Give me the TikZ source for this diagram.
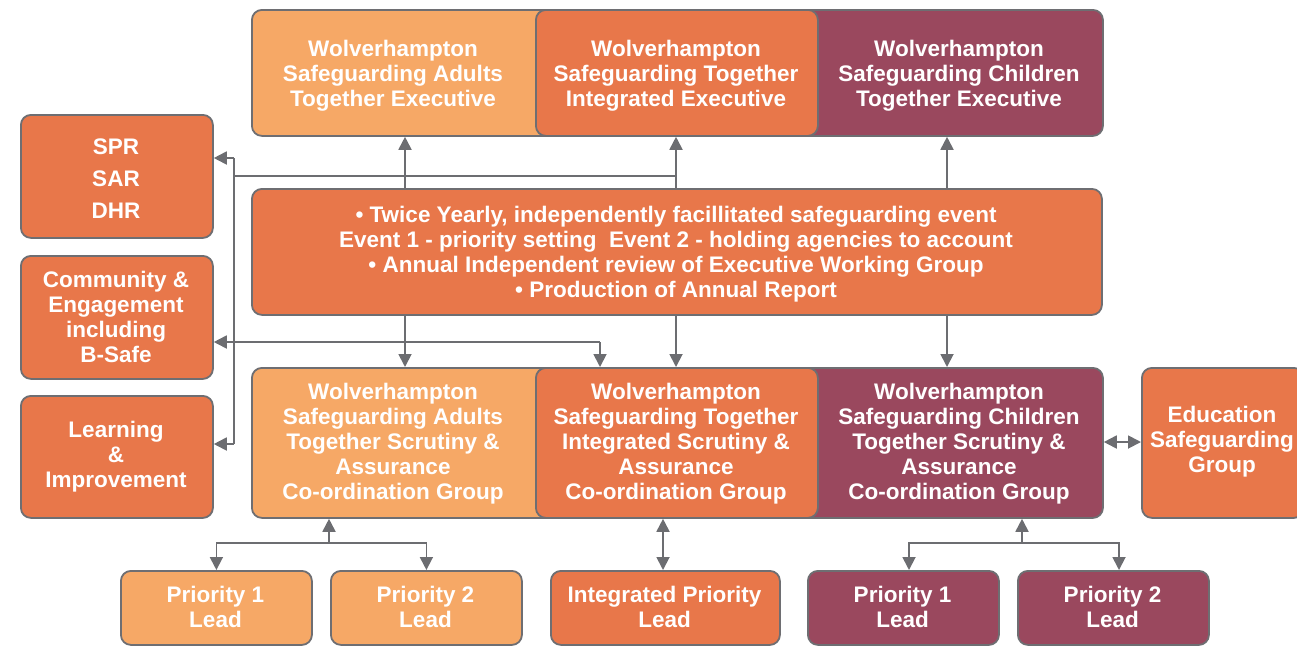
\documentclass[tikz,border=0pt]{standalone}
\usepackage{fontspec}
\setmainfont{Liberation Sans}
\usetikzlibrary{arrows.meta}
\definecolor{lor}{RGB}{246,168,102}
\definecolor{mor}{RGB}{232,119,74}
\definecolor{mar}{RGB}{154,72,94}
\definecolor{bgray}{RGB}{110,110,114}
\definecolor{lgray}{RGB}{108,109,113}
\begin{document}
\begin{tikzpicture}[x=1pt,y=-1pt,
  box/.style={draw=bgray, line width=1.8pt, rounded corners=10pt, inner sep=0pt, anchor=north west},
  txt/.style={text=white, font=\bfseries\fontsize{22.5}{25}\selectfont, align=center, inner sep=0pt},
  ln/.style={draw=lgray, line width=1.8pt},
  arr/.style={ln, -{Triangle[length=13pt,width=13pt]}},
  dbl/.style={ln, {Triangle[length=13pt,width=13pt]}-{Triangle[length=13pt,width=13pt]}}]
\useasboundingbox (0,0) rectangle (1297,646);
\begin{scope}
\clip (0,0) rectangle (1297,646);
% top row
\node[box, fill=lor, minimum width=309pt, minimum height=126pt] (exA) at (251,9) {};
\node[box, fill=mar, minimum width=312pt, minimum height=126pt] (exC) at (790,9) {};
\node[box, fill=mor, minimum width=282pt, minimum height=126pt] (exB) at (535,9) {};
\node[txt] (exAt) at (393,76) {Wolverhampton\\Safeguarding Adults\\Together Executive};
\node[txt] (exBt) at (676,76) {Wolverhampton\\Safeguarding Together\\Integrated Executive};
\node[txt] (exCt) at (959,76) {Wolverhampton\\Safeguarding Children\\Together Executive};
% left column
\node[box, fill=mor, minimum width=192pt, minimum height=123pt] (spr) at (20,114) {};
\node[txt, font=\bfseries\fontsize{22.5}{32}\selectfont] (sprt) at (116,178.5) {SPR\\SAR\\DHR};
\node[box, fill=mor, minimum width=192pt, minimum height=123pt] (com) at (20,255) {};
\node[txt] (comt) at (116,317) {Community \&\\Engagement\\including\\B-Safe};
\node[box, fill=mor, minimum width=192pt, minimum height=122pt] (lrn) at (20,395) {};
\node[txt] (lrnt) at (116,457) {Learning\\\&\\Improvement};
% event box
\node[box, fill=mor, minimum width=850pt, minimum height=126pt] (ev) at (251,188) {};
\node[txt] (evt) at (676,254) {\textbullet\ Twice Yearly, independently facillitated safeguarding event\\Event 1 - priority setting\ \ Event 2 - holding agencies to account\\\textbullet\ Annual Independent review of Executive Working Group\\\textbullet\ Production of Annual Report};
% bottom row
\node[box, fill=lor, minimum width=309pt, minimum height=150pt] (sgA) at (251,367) {};
\node[box, fill=mar, minimum width=312pt, minimum height=150pt] (sgC) at (790,367) {};
\node[box, fill=mor, minimum width=282pt, minimum height=150pt] (sgB) at (535,367) {};
\node[txt] (sgAt) at (393,444) {Wolverhampton\\Safeguarding Adults\\Together Scrutiny \&\\Assurance\\Co-ordination Group};
\node[txt] (sgBt) at (676,444) {Wolverhampton\\Safeguarding Together\\Integrated Scrutiny \&\\Assurance\\Co-ordination Group};
\node[txt] (sgCt) at (959,444) {Wolverhampton\\Safeguarding Children\\Together Scrutiny \&\\Assurance\\Co-ordination Group};
\node[box, fill=mor, minimum width=162pt, minimum height=150pt] (edu) at (1141,367) {};
\node[txt] (edut) at (1222,442) {Education\\Safeguarding\\Group};
% priority row
\node[box, fill=lor, minimum width=191pt, minimum height=74pt] (pA1) at (120,570) {};
\node[txt] (pA1t) at (215.5,607) {Priority 1\\Lead};
\node[box, fill=lor, minimum width=191pt, minimum height=74pt] (pA2) at (330,570) {};
\node[txt] (pA2t) at (425.5,607) {Priority 2\\Lead};
\node[box, fill=mor, minimum width=229pt, minimum height=74pt] (pI) at (550,570) {};
\node[txt] (pIt) at (664.5,607) {Integrated Priority\\Lead};
\node[box, fill=mar, minimum width=191pt, minimum height=74pt] (pC1) at (807,570) {};
\node[txt] (pC1t) at (902.5,607) {Priority 1\\Lead};
\node[box, fill=mar, minimum width=191pt, minimum height=74pt] (pC2) at (1017,570) {};
\node[txt] (pC2t) at (1112.5,607) {Priority 2\\Lead};
\end{scope}
% column coordinates
\coordinate (cA) at (405,0);
\coordinate (cB) at (676,0);
\coordinate (cC) at (947,0);
\coordinate (vtop) at (234,158);
\coordinate (vmid) at (234,176);
\coordinate (vbot) at (234,444);
\coordinate (hj) at (676,176);
\coordinate (mj) at (600,342);
% connectors top
\draw[arr] (ev.north -| cA) -- (exA.south -| cA);
\draw[arr] (ev.north -| cB) -- (exB.south -| cB);
\draw[arr] (ev.north -| cC) -- (exC.south -| cC);
\draw[ln] (vmid) -- (hj);
\draw[ln] (vtop) -- (vbot);
\draw[arr] (vtop) -- (vtop -| spr.east);
\draw[arr] (vbot) -- (vbot -| lrn.east);
% connectors middle
\draw[arr] (ev.south -| cA) -- (sgA.north -| cA);
\draw[arr] (ev.south -| cB) -- (sgB.north -| cB);
\draw[arr] (ev.south -| cC) -- (sgC.north -| cC);
\draw[arr] (mj) -- (mj -| com.east);
\draw[arr] (mj) -- (mj |- sgB.north);
\draw[dbl] (sgC.east |- 0,442) -- (edu.west |- 0,442);
% connectors bottom
\coordinate (bA) at (329,543);
\coordinate (bC) at (1022,543);
\draw[arr] (bA) -- (bA |- sgA.south);
\draw[arr] (bA) -| (pA1.north);
\draw[arr] (bA) -| (pA2.north);
\draw[arr] (bC) -- (bC |- sgC.south);
\draw[arr] (bC) -| (909,570);
\draw[arr] (bC) -| (1119,570);
\draw[dbl] (pI.north -| 663,0) -- (sgB.south -| 663,0);
\end{tikzpicture}
\end{document}
